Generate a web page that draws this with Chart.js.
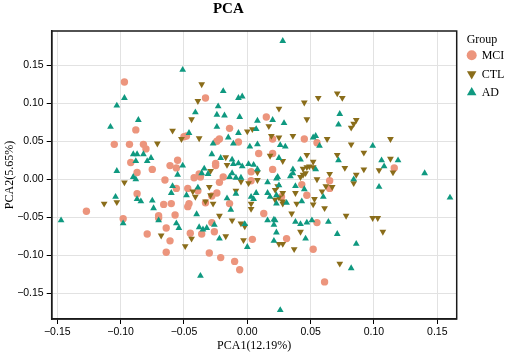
<!DOCTYPE html>
<html>
<head>
<meta charset="utf-8">
<script src="https://cdn.jsdelivr.net/npm/chart.js@4.4.1/dist/chart.umd.min.js"></script>
<style>
  html, body { margin: 0; padding: 0; background: #fff; }
  #wrap { width: 505px; height: 353px; }
</style>
</head>
<body>
<div id="wrap"><canvas id="pcaChart"></canvas></div>
<script>
// PCA scores, [PCA1, PCA2]
const groupNames = ['MCI', 'CTL', 'AD'];

const mciPoints = [
  [-0.097, 0.128], [-0.088, 0.065], [-0.105, 0.046], [-0.093, 0.046], [-0.082, 0.046], [-0.080, 0.040],
  [-0.092, 0.022], [-0.087, 0.009], [-0.075, 0.013],
  [-0.065, -0.001], [-0.087, -0.019], [-0.127, -0.042], [-0.098, -0.052], [-0.070, -0.048], [-0.070, -0.051],
  [-0.079, -0.072], [-0.066, -0.033], [-0.064, -0.064], [-0.061, -0.081], [-0.064, -0.096], [-0.060, -0.032],
  [-0.033, 0.107], [0.015, 0.082], [-0.014, 0.067], [-0.050, 0.056], [-0.048, 0.057], [-0.022, 0.053],
  [-0.024, 0.050], [-0.007, 0.049], [0.020, 0.053], [0.009, 0.034], [0.020, 0.034], [-0.025, 0.021],
  [-0.025, 0.018], [-0.055, 0.025], [-0.061, 0.018], [-0.056, 0.015], [-0.038, 0.007], [-0.042, 0.002],
  [-0.037, 0.003], [-0.019, 0.003], [0.003, 0.010], [0.020, 0.013],
  [-0.022, -0.004], [-0.056, -0.012], [-0.047, -0.012], [-0.046, -0.032], [-0.047, -0.036], [-0.039, -0.015],
  [-0.057, -0.047], [-0.045, -0.071], [-0.036, -0.072], [-0.028, -0.057], [-0.026, -0.069], [-0.014, -0.032],
  [-0.033, -0.031], [-0.024, -0.018], [-0.028, -0.022], [0.004, -0.079], [-0.030, -0.097], [-0.021, -0.103],
  [-0.010, -0.108], [-0.006, -0.119], [0.013, -0.045], [0.031, -0.078], [0.003, -0.002], [0.027, -0.023],
  [0.045, 0.053], [0.055, 0.048], [0.116, 0.015], [0.065, -0.002], [0.065, -0.012], [0.047, -0.021],
  [0.043, -0.007], [0.055, -0.057], [0.052, -0.092], [0.061, -0.135]
];

const ctlPoints = [
  [-0.071, 0.047], [-0.097, -0.004], [-0.113, -0.032], [-0.103, -0.030], [-0.068, -0.074],
  [-0.036, 0.125], [-0.039, 0.103], [-0.044, 0.079], [0.025, 0.093], [0.017, 0.070], [-0.059, 0.064],
  [0.000, 0.063], [0.004, 0.066], [-0.052, 0.053], [-0.038, 0.054], [0.019, 0.057], [0.025, 0.055],
  [0.018, 0.031], [0.028, 0.024], [-0.017, 0.029], [-0.016, 0.019], [-0.029, 0.011], [0.008, 0.009],
  [-0.005, -0.003], [0.001, -0.005], [0.008, -0.001], [0.024, -0.009], [-0.043, -0.016], [-0.041, -0.023],
  [-0.044, -0.078], [-0.049, -0.088], [-0.017, -0.075], [-0.022, -0.048], [-0.012, -0.054], [-0.033, -0.029],
  [-0.027, -0.032], [-0.009, -0.015], [-0.005, -0.058], [-0.002, -0.062], [-0.003, -0.080], [0.003, -0.032],
  [0.003, -0.039], [0.022, -0.014], [0.025, -0.024], [0.025, -0.085], [0.028, -0.085], [-0.030, -0.010],
  [-0.029, -0.021], [0.022, -0.027], [0.028, -0.032],
  [0.071, 0.113], [0.075, 0.107], [0.056, 0.107], [0.045, 0.101], [0.047, 0.079], [0.086, 0.078],
  [0.084, 0.073], [0.082, 0.068], [0.036, 0.057], [0.063, 0.053], [0.082, 0.046], [0.113, 0.053],
  [0.092, 0.035], [0.071, 0.032], [0.077, 0.015], [0.092, 0.013], [0.047, 0.032], [0.052, 0.023],
  [0.049, 0.017], [0.052, 0.016], [0.044, 0.014], [0.047, 0.016], [0.046, 0.008], [0.113, 0.027],
  [0.104, 0.012], [0.115, 0.009], [0.086, 0.006], [0.065, 0.007], [0.042, 0.003], [0.044, 0.006],
  [0.084, -0.005], [0.028, -0.018], [0.028, -0.029], [0.039, -0.032], [0.052, -0.033], [0.053, -0.026],
  [0.059, -0.016], [0.061, -0.038], [0.062, -0.009], [0.067, -0.010], [0.035, -0.045], [0.078, -0.048],
  [0.099, -0.051], [0.103, -0.051], [0.107, -0.069], [0.042, -0.069], [0.037, -0.092], [0.073, -0.111],
  [0.038, -0.018], [0.055, 0.000]
];

const adPoints = [
  [-0.097, 0.107], [-0.103, 0.097], [-0.086, 0.078], [-0.108, 0.069], [-0.090, 0.033], [-0.087, 0.033],
  [-0.082, 0.033], [-0.076, 0.028], [-0.088, 0.024], [-0.079, 0.024], [-0.103, 0.011], [-0.090, 0.003],
  [-0.088, 0.000],
  [-0.104, -0.023], [-0.087, -0.026], [-0.084, -0.029], [-0.075, -0.028], [-0.074, -0.038], [-0.147, -0.054],
  [-0.098, -0.058], [-0.070, -0.054],
  [0.028, 0.182], [-0.051, 0.144], [-0.019, 0.116], [-0.007, 0.107], [-0.004, 0.109], [-0.023, 0.096],
  [-0.041, 0.088], [-0.024, 0.085], [-0.018, 0.084], [-0.006, 0.082], [0.008, 0.077], [0.020, 0.078],
  [0.029, 0.074], [-0.024, 0.069], [-0.046, 0.061], [-0.007, 0.061], [0.007, 0.066], [-0.015, 0.055],
  [-0.011, 0.047], [0.008, 0.046], [0.002, 0.043], [0.026, 0.045], [0.030, 0.043], [-0.027, 0.047],
  [-0.028, 0.033], [0.025, 0.028], [-0.021, 0.028], [-0.012, 0.026], [-0.011, 0.020], [-0.007, 0.021],
  [-0.004, 0.017], [0.001, 0.020], [0.005, 0.019], [-0.051, 0.018], [-0.055, 0.006], [-0.034, 0.014],
  [-0.036, 0.008], [-0.031, 0.007], [-0.012, 0.008], [-0.014, 0.003], [0.008, 0.013], [0.024, 0.003],
  [-0.009, 0.002], [-0.005, 0.002],
  [-0.059, -0.009], [-0.060, -0.018], [-0.048, -0.021], [-0.040, -0.046], [-0.056, -0.058], [-0.054, -0.064],
  [-0.038, -0.063], [-0.035, -0.066], [-0.032, -0.064], [-0.026, -0.060], [-0.022, -0.078], [-0.013, -0.040],
  [-0.016, -0.025], [-0.009, -0.019], [0.000, -0.089], [-0.002, -0.059], [-0.037, -0.127], [0.026, -0.172],
  [0.003, -0.023], [0.005, -0.026], [0.016, -0.018], [0.018, -0.023], [0.023, -0.032], [0.016, -0.054],
  [0.021, -0.053], [0.022, -0.054], [0.021, -0.060], [0.023, -0.070], [0.021, -0.081], [0.016, -0.004],
  [0.023, 0.001], [0.025, -0.008], [0.007, -0.018], [0.023, -0.021], [-0.039, -0.011],
  [0.073, 0.086], [0.072, 0.072], [0.052, 0.055], [0.054, 0.057], [0.057, 0.044], [0.099, 0.044],
  [0.072, 0.025], [0.042, 0.026], [0.054, 0.013], [0.036, 0.013], [0.106, 0.025], [0.108, 0.017],
  [0.119, 0.025], [0.084, 0.000], [0.140, 0.008], [0.034, 0.004], [0.036, 0.008], [0.104, -0.010],
  [0.045, -0.013], [0.038, -0.009], [0.060, -0.023], [0.031, -0.031], [0.038, -0.056], [0.042, -0.059],
  [0.047, -0.057], [0.051, -0.054], [0.064, -0.056], [0.071, -0.072], [0.046, -0.078], [0.086, -0.085],
  [0.082, -0.117], [0.160, -0.024], [0.043, -0.029]
];

const groupColors = ['#EC957D', '#8A6D1A', '#0F9980'];

function fmtTick(v) {
    if (Math.abs(v) < 1e-9) return '0.00';
    return (v < 0 ? '\u2212' : '') + Math.abs(v).toFixed(2);
}

// boxed plot + legend on the right
const framePlugin = {
    id: 'frame',
    afterDraw(chart) {
        const ctx = chart.ctx;
        const a = chart.chartArea;
        ctx.save();
        ctx.strokeStyle = '#1a1a1a';
        ctx.lineWidth = 1.5;
        ctx.strokeRect(a.left, a.top, a.right - a.left, a.bottom - a.top);

        const lx = a.right + 10;
        ctx.fillStyle = '#000';
        ctx.font = '12px "Liberation Serif"';
        ctx.textBaseline = 'middle';
        ctx.textAlign = 'left';
        ctx.fillText('Group', lx, a.top + 8.5);
        chart.data.datasets.forEach((ds, i) => {
            const y = a.top + 24.3 + i * 18.6;
            ctx.fillStyle = ds.backgroundColor;
            Chart.helpers.drawPoint(ctx, {
                pointStyle: ds.pointStyle,
                rotation: ds.pointRotation || 0,
                radius: ds.pointStyle === 'circle' ? 5 : 5.5,
                borderWidth: 0
            }, lx + 5, y);
            ctx.fillStyle = '#000';
            ctx.fillText(ds.label, lx + 15, y + 0.5);
        });
        ctx.restore();
    }
};

new Chart(document.getElementById('pcaChart'), {
    type: 'scatter',
    data: {
        datasets: [
            {
                label: groupNames[0],
                data: mciPoints,
                backgroundColor: groupColors[0],
                pointStyle: 'circle',
                pointRadius: 3.7,
                pointBorderWidth: 0,
                order: 3
            },
            {
                label: groupNames[1],
                data: ctlPoints,
                backgroundColor: groupColors[1],
                pointStyle: 'triangle',
                pointRotation: 180,
                pointRadius: 3.9,
                pointBorderWidth: 0,
                order: 2
            },
            {
                label: groupNames[2],
                data: adPoints,
                backgroundColor: groupColors[2],
                pointStyle: 'triangle',
                pointRadius: 3.9,
                pointBorderWidth: 0,
                order: 1
            }
        ]
    },
    options: {
        responsive: true,
        maintainAspectRatio: false,
        animation: false,
        layout: {
            padding: { left: 0, right: 48.3, top: 0, bottom: 0 }
        },
        plugins: {
            legend: { display: false },
            tooltip: { enabled: false },
            title: {
                display: true,
                text: 'PCA',
                color: '#000',
                font: { family: 'Liberation Serif', size: 15, weight: 'bold' },
                padding: { top: 0, bottom: 13 }
            }
        },
        scales: {
            x: {
                type: 'linear',
                min: -0.1544,
                max: 0.1653,
                afterFit: (scale) => { scale.height = 34; },
                ticks: {
                    stepSize: 0.05,
                    includeBounds: false,
                    color: '#000',
                    padding: 2,
                    maxRotation: 0,
                    font: { family: 'Liberation Sans', size: 10.5 },
                    callback: fmtTick
                },
                grid: { color: '#E2E2E2', lineWidth: 1, tickColor: '#000', tickLength: 5, tickWidth: 1 },
                border: { display: true, color: '#1a1a1a', width: 1.5 },
                title: {
                    display: true,
                    text: 'PCA1(12.19%)',
                    color: '#000',
                    font: { family: 'Liberation Serif', size: 12 },
                    padding: 0
                }
            },
            y: {
                type: 'linear',
                min: -0.1838,
                max: 0.1951,
                afterFit: (scale) => { scale.width = 51.7; },
                ticks: {
                    stepSize: 0.05,
                    includeBounds: false,
                    color: '#000',
                    padding: 3,
                    font: { family: 'Liberation Sans', size: 10.5 },
                    callback: fmtTick
                },
                grid: { color: '#E2E2E2', lineWidth: 1, tickColor: '#000', tickLength: 5, tickWidth: 1 },
                border: { display: true, color: '#1a1a1a', width: 1.5 },
                title: {
                    display: true,
                    text: 'PCA2(5.65%)',
                    color: '#000',
                    font: { family: 'Liberation Serif', size: 12 },
                    padding: { top: 3, bottom: 0 }
                }
            }
        }
    },
    plugins: [framePlugin]
});
</script>
</body>
</html>
